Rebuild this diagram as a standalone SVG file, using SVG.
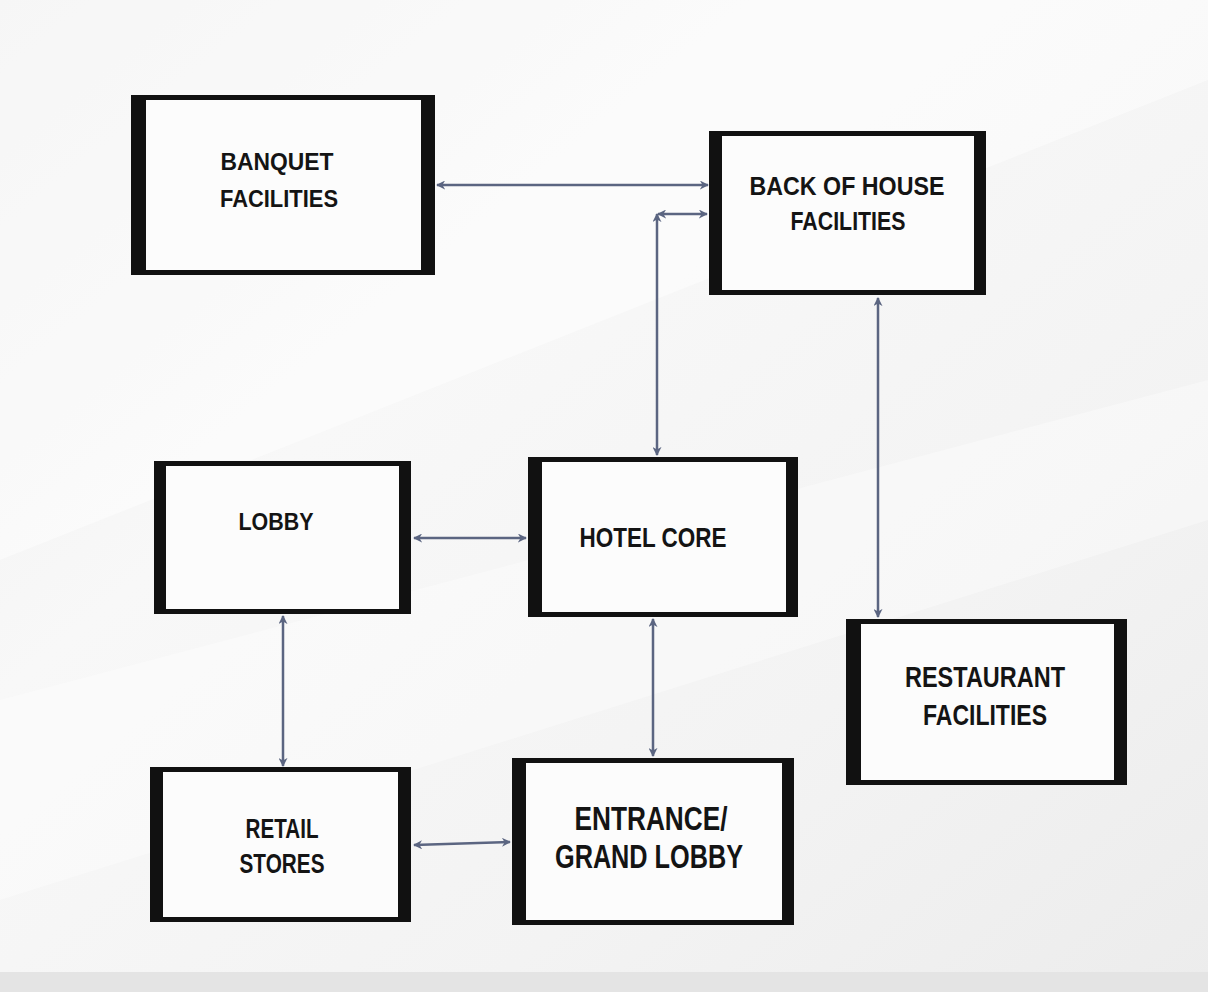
<svg xmlns="http://www.w3.org/2000/svg" width="1208" height="992" viewBox="0 0 1208 992">
<defs>
<linearGradient id="bg" x1="0" y1="0" x2="1" y2="1">
<stop offset="0" stop-color="#efefef"/>
<stop offset="0.35" stop-color="#f8f8f8"/>
<stop offset="0.7" stop-color="#f3f3f3"/>
<stop offset="1" stop-color="#ececec"/>
</linearGradient>
<marker id="ah" viewBox="0 0 10 10" refX="9" refY="5" markerWidth="9" markerHeight="9" markerUnits="userSpaceOnUse" orient="auto-start-reverse">
<path d="M0,0 L10,5 L0,10 L3,5 Z" fill="#5b6581"/>
</marker>
<style>
.frame{fill:#111111}
.inner{fill:#fcfcfc}
.lbl{font-family:"Liberation Sans",Arial,sans-serif;font-weight:bold;fill:#141414;text-anchor:middle}
.con{stroke:#5b6581;stroke-width:2.5;fill:none;marker-start:url(#ah);marker-end:url(#ah)}
</style>
</defs>
<rect x="0" y="0" width="1208" height="992" fill="url(#bg)"/>
<polygon points="0,0 1208,0 1208,80 0,560" fill="#ffffff" opacity="0.45"/>
<polygon points="0,700 1208,380 1208,520 0,900" fill="#ffffff" opacity="0.35"/>
<rect x="0" y="972" width="1208" height="20" fill="#e4e4e4"/>

<g id="connectors">
<path class="con" d="M708,185 H437"/>
<path class="con" d="M658,214 H707"/>
<path class="con" d="M657,214 V455"/>
<path class="con" d="M878,298 V617"/>
<path class="con" d="M414,538 H526"/>
<path class="con" d="M283,616 V766"/>
<path class="con" d="M653,619 V756"/>
<path class="con" d="M414,845 L510,842"/>
</g>

<g id="banquet">
<rect class="frame" x="131" y="95" width="304" height="180"/>
<rect class="inner" x="146" y="100" width="275" height="170"/>
<text class="lbl" x="277" y="170" font-size="24" textLength="113" lengthAdjust="spacingAndGlyphs">BANQUET</text>
<text class="lbl" x="279" y="207" font-size="24" textLength="118" lengthAdjust="spacingAndGlyphs">FACILITIES</text>
</g>

<g id="back-of-house">
<rect class="frame" x="709" y="131" width="277" height="164"/>
<rect class="inner" x="722" y="136" width="252" height="154"/>
<text class="lbl" x="847" y="195" font-size="26" textLength="195" lengthAdjust="spacingAndGlyphs">BACK OF HOUSE</text>
<text class="lbl" x="848" y="230" font-size="26" textLength="115" lengthAdjust="spacingAndGlyphs">FACILITIES</text>
</g>

<g id="lobby">
<rect class="frame" x="154" y="461" width="257" height="153"/>
<rect class="inner" x="166" y="466" width="233" height="143"/>
<text class="lbl" x="276" y="530" font-size="23" textLength="75" lengthAdjust="spacingAndGlyphs">LOBBY</text>
</g>

<g id="hotel-core">
<rect class="frame" x="528" y="457" width="270" height="160"/>
<rect class="inner" x="542" y="462" width="244" height="150"/>
<text class="lbl" x="653" y="547" font-size="28" textLength="147" lengthAdjust="spacingAndGlyphs">HOTEL CORE</text>
</g>

<g id="restaurant">
<rect class="frame" x="846" y="619" width="281" height="166"/>
<rect class="inner" x="861" y="624" width="253" height="156"/>
<text class="lbl" x="985" y="687" font-size="30" textLength="160" lengthAdjust="spacingAndGlyphs">RESTAURANT</text>
<text class="lbl" x="985" y="725" font-size="30" textLength="124" lengthAdjust="spacingAndGlyphs">FACILITIES</text>
</g>

<g id="retail">
<rect class="frame" x="150" y="767" width="261" height="155"/>
<rect class="inner" x="163" y="772" width="235" height="145"/>
<text class="lbl" x="282" y="838" font-size="27" textLength="73" lengthAdjust="spacingAndGlyphs">RETAIL</text>
<text class="lbl" x="282" y="873" font-size="27" textLength="85" lengthAdjust="spacingAndGlyphs">STORES</text>
</g>

<g id="entrance">
<rect class="frame" x="512" y="758" width="282" height="167"/>
<rect class="inner" x="526" y="763" width="256" height="157"/>
<text class="lbl" x="651" y="830" font-size="33" textLength="153" lengthAdjust="spacingAndGlyphs">ENTRANCE/</text>
<text class="lbl" x="649" y="868" font-size="33" textLength="188" lengthAdjust="spacingAndGlyphs">GRAND LOBBY</text>
</g>
</svg>
